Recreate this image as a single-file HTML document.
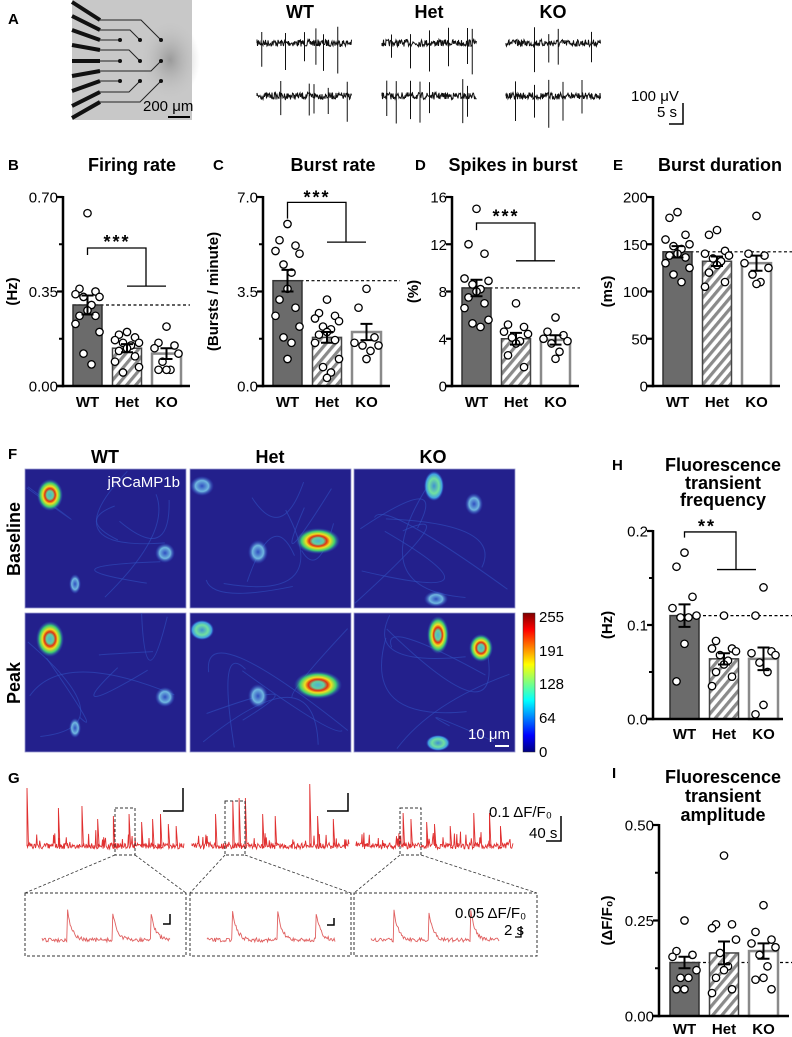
<!DOCTYPE html>
<html><head><meta charset="utf-8">
<style>
html,body{margin:0;padding:0;background:#fff;}
svg{display:block;font-family:"Liberation Sans",Arial,sans-serif;}
.lbl{font-weight:bold;font-size:15px;}
.ttl{font-weight:bold;font-size:18px;}
.tk{font-size:15px;}
.xl{font-weight:bold;font-size:15px;}
</style></head>
<body>
<svg id="fig" width="792" height="1037" viewBox="0 0 792 1037">
<defs>
<pattern id="hatch" width="7" height="7" patternUnits="userSpaceOnUse" patternTransform="rotate(40)">
<rect width="7" height="7" fill="#fff"/><rect width="3.2" height="7" fill="#8a8a8a"/></pattern>
<linearGradient id="jet" x1="0" y1="1" x2="0" y2="0">
<stop offset="0" stop-color="#00007f"/><stop offset="0.12" stop-color="#0000ff"/><stop offset="0.37" stop-color="#00ffff"/>
<stop offset="0.5" stop-color="#7fff7f"/><stop offset="0.63" stop-color="#ffff00"/><stop offset="0.88" stop-color="#ff0000"/><stop offset="1" stop-color="#7f0000"/></linearGradient>
<radialGradient id="hot"><stop offset="0" stop-color="#50b0d0"/><stop offset="0.25" stop-color="#60d0a0"/><stop offset="0.4" stop-color="#e03010"/><stop offset="0.55" stop-color="#f0e020"/><stop offset="0.75" stop-color="#40d070"/><stop offset="1" stop-color="#2848c8" stop-opacity="0"/></radialGradient>
<radialGradient id="mid"><stop offset="0" stop-color="#4090d0"/><stop offset="0.5" stop-color="#70e0a0"/><stop offset="0.8" stop-color="#40a0e0"/><stop offset="1" stop-color="#2848c8" stop-opacity="0"/></radialGradient>
<radialGradient id="dim"><stop offset="0" stop-color="#3050c0"/><stop offset="0.55" stop-color="#70b8e0"/><stop offset="1" stop-color="#2848c8" stop-opacity="0"/></radialGradient>
<radialGradient id="patch"><stop offset="0" stop-color="#9a9a9a"/><stop offset="1" stop-color="#c4c4c4" stop-opacity="0"/></radialGradient>
</defs>
</svg>
<script>
const NS="http://www.w3.org/2000/svg";
const svg=document.getElementById('fig');
function mk(tag,attrs,parent,txt){const e=document.createElementNS(NS,tag);for(const k in attrs)e.setAttribute(k,attrs[k]);if(txt!==undefined)e.textContent=txt;(parent||svg).appendChild(e);return e;}

// ===== Data arrays =====
const groups=["WT","Het","KO"];
// B firing rate
const bTicks=[0,0.35,0.70]; const bTickLabels=["0.00","0.35","0.70"];
const bMeans=[0.30,0.14,0.12]; const bSems=[0.035,0.015,0.02];
const bWT=[0.64,0.36,0.35,0.34,0.33,0.33,0.30,0.28,0.26,0.26,0.23,0.20,0.12,0.08];
const bHet=[0.20,0.19,0.18,0.17,0.16,0.16,0.15,0.14,0.13,0.11,0.09,0.07,0.05];
const bKO=[0.22,0.16,0.15,0.14,0.12,0.09,0.06,0.06,0.06];
// C burst rate
const cTicks=[0,3.5,7.0]; const cTickLabels=["0.0","3.5","7.0"];
const cMeans=[3.9,1.8,2.0]; const cSems=[0.4,0.2,0.3];
const cWT=[6.0,5.4,5.2,5.0,4.9,4.5,4.2,3.6,3.2,2.9,2.6,2.2,1.8,1.6,1.0];
const cHet=[3.2,2.7,2.6,2.5,2.4,2.2,2.1,2.0,1.9,1.7,1.6,1.0,0.7,0.5,0.3];
const cKO=[3.6,2.9,1.8,1.6,1.5,1.5,1.3,1.0];
// D spikes in burst
const dTicks=[0,4,8,12,16]; const dTickLabels=["0","4","8","12","16"];
const dMeans=[8.3,4.0,3.9]; const dSems=[0.7,0.5,0.4];
const dWT=[15,12,11.2,9.1,8.9,8.6,8.2,8.0,7.5,7.0,6.6,5.6,5.3,5.0];
const dHet=[7.0,5.2,5.0,4.6,4.4,4.1,3.8,3.6,2.6,1.6];
const dKO=[5.8,4.6,4.3,4.0,3.8,3.6,2.9,2.3];
// E burst duration
const eTicks=[0,50,100,150,200]; const eTickLabels=["0","50","100","150","200"];
const eMeans=[142,132,130]; const eSems=[6,5,8];
const eWT=[184,178,160,155,150,148,145,140,138,136,130,125,118,110];
const eHet=[165,160,143,140,138,135,132,128,120,110,105];
const eKO=[180,140,138,130,125,118,110,108];
// H transient frequency
const hTicks=[0,0.1,0.2]; const hTickLabels=["0.0","0.1","0.2"];
const hMeans=[0.110,0.064,0.064]; const hSems=[0.012,0.006,0.012];
const hWT=[0.177,0.162,0.130,0.118,0.110,0.108,0.108,0.080,0.040];
const hHet=[0.110,0.083,0.075,0.075,0.072,0.068,0.062,0.058,0.050,0.045,0.035];
const hKO=[0.140,0.110,0.072,0.070,0.068,0.060,0.050,0.015,0.005];
// I transient amplitude
const iTicks=[0,0.25,0.50]; const iTickLabels=["0.00","0.25","0.50"];
const iMeans=[0.14,0.165,0.17]; const iSems=[0.015,0.03,0.02];
const iWT=[0.25,0.17,0.16,0.155,0.12,0.10,0.10,0.07,0.07];
const iHet=[0.42,0.24,0.24,0.23,0.20,0.165,0.13,0.12,0.10,0.07,0.06];
const iKO=[0.29,0.22,0.20,0.19,0.18,0.16,0.13,0.10,0.095,0.07];
// significance brackets [topValue, tickBottom, dropValue, starsValue]
const bSig=[0.511,0.485,0.37,0.545]; const cSig=[6.8,6.2,5.33,7.1]; const dSig=[13.8,13.2,10.6,14.6]; const hSig=[0.199,0.193,0.159,0.208];

function text(x,y,s,cls,anchor,name,extra){const a={x:x,y:y,class:cls,'text-anchor':anchor||'start'};Object.assign(a,extra||{});const t=mk('text',a,null,s);return t;}

function panel(p){
  const g=mk('g',{});
  
  
  const ymax=p.ticks[p.ticks.length-1];
  const y=v=>p.bottom-(v/ymax)*(p.bottom-p.top);
  const ax=p.axisX, bx0=p.barX;
  const cx=i=>bx0+14.5+i*39.5;
  const dl=mk('line',{x1:bx0,x2:p.dashEnd,y1:y(p.means[0]),y2:y(p.means[0]),stroke:'#000','stroke-width':1.2,'stroke-dasharray':'3,2.5'},g);
  
  const fills=['#6b6b6b','url(#hatch)','#fff'], strokes=['#333','#444','#8a8a8a'], sw=[1.5,1.5,2.5];
  p.means.forEach((m,i)=>{
    const r=mk('rect',{x:bx0+i*39.5,y:y(m),width:29,height:p.bottom-y(m),fill:fills[i],stroke:strokes[i],'stroke-width':sw[i]},g);
    
    
  });
  p.points.forEach((arr,i)=>{
    arr.forEach((v,j)=>{
      const off=[0,-8,8,-12,12,-4,4][j%7];
      const c=mk('circle',{cx:cx(i)+off,cy:y(v),r:3.7,fill:'#fff',stroke:'#000','stroke-width':1.3},g);
      
      
    });
  });
  p.means.forEach((m,i)=>{
    const e=mk('path',{d:`M${cx(i)},${y(m-p.sems[i])}V${y(m+p.sems[i])}M${cx(i)-6},${y(m-p.sems[i])}h12M${cx(i)-6},${y(m+p.sems[i])}h12`,stroke:'#000','stroke-width':2,fill:'none'},g);
    
    
  });
  const ya=mk('line',{x1:ax,x2:ax,y1:p.top-1,y2:p.bottom+1.2,stroke:'#000','stroke-width':2.5},g);
  
  const xa=mk('line',{x1:ax-6,x2:ax+p.xLen,y1:p.bottom,y2:p.bottom,stroke:'#000','stroke-width':2.5},g);
  
  p.ticks.forEach((t,i)=>{
    const tl=mk('line',{x1:ax-6,x2:ax,y1:y(t),y2:y(t),stroke:'#000','stroke-width':2.2},g);
    
    text(ax-5,y(t)+5.5,p.tickLabels[i],'tk','end','y-tick-label');
    if(p.minor&&i<p.ticks.length-1){const mv=(t+p.ticks[i+1])/2;
      const ml=mk('line',{x1:ax-4,x2:ax,y1:y(mv),y2:y(mv),stroke:'#000','stroke-width':2},g);
      }
  });
  groups.forEach((gname,i)=>text(cx(i),p.bottom+p.xlOff,gname,'xl','middle','x-label-'+gname.toLowerCase()));
  text(0,0,p.ytitle,'lbl','middle','y-axis-title',{transform:`translate(${p.ytx},${(p.top+p.bottom)/2}) rotate(-90)`});
  if(p.sig){
    const s=p.sig;
    const b=mk('path',{d:`M${cx(0)},${y(s[1])}V${y(s[0])}H${ax+83}V${y(s[2])}M${ax+64},${y(s[2])}H${ax+103}`,stroke:'#000','stroke-width':1.3,fill:'none'},g);
    
    text(ax+54,y(s[3])+9,p.stars,'ttl','middle','significance-stars',{'letter-spacing':'2'});
  }
}
const T=197,B=386;
panel({name:'firing-rate-chart',axisX:63,barX:73,top:T,bottom:B,xLen:127,dashEnd:190,ticks:bTicks,tickLabels:bTickLabels,minor:true,means:bMeans,sems:bSems,points:[bWT,bHet,bKO],ytitle:'(Hz)',ytx:17,sig:bSig,stars:'***',xlOff:21});
panel({name:'burst-rate-chart',axisX:263,barX:273,top:T,bottom:B,xLen:127,dashEnd:400,ticks:cTicks,tickLabels:cTickLabels,minor:true,means:cMeans,sems:cSems,points:[cWT,cHet,cKO],ytitle:'(Bursts / minute)',ytx:218,sig:cSig,stars:'***',xlOff:21});
panel({name:'spikes-in-burst-chart',axisX:452,barX:462,top:T,bottom:B,xLen:127,dashEnd:580,ticks:dTicks,tickLabels:dTickLabels,minor:false,means:dMeans,sems:dSems,points:[dWT,dHet,dKO],ytitle:'(%)',ytx:418,sig:dSig,stars:'***',xlOff:21});
panel({name:'burst-duration-chart',axisX:653,barX:663,top:T,bottom:B,xLen:127,dashEnd:792,ticks:eTicks,tickLabels:eTickLabels,minor:false,means:eMeans,sems:eSems,points:[eWT,eHet,eKO],ytitle:'(ms)',ytx:612,sig:null,xlOff:21});
panel({name:'transient-frequency-chart',axisX:653,barX:670,top:531,bottom:719,xLen:130,dashEnd:792,ticks:hTicks,tickLabels:hTickLabels,minor:true,means:hMeans,sems:hSems,points:[hWT,hHet,hKO],ytitle:'(Hz)',ytx:612,sig:hSig,stars:'**',xlOff:20});
panel({name:'transient-amplitude-chart',axisX:659,barX:670,top:825,bottom:1016,xLen:130,dashEnd:792,ticks:iTicks,tickLabels:iTickLabels,minor:true,means:iMeans,sems:iSems,points:[iWT,iHet,iKO],ytitle:'(ΔF/F₀)',ytx:612,sig:null,xlOff:18});

[['A',8,24],['B',8,170],['C',213,170],['D',415,170],['E',613,170],['F',8,459],['G',8,783],['H',612,470],['I',612,778]].forEach(l=>text(l[1],l[2],l[0],'lbl','start','panel-letter-'+l[0].toLowerCase(),{'font-size':'16'}));
text(132,171,'Firing rate','ttl','middle','title-firing-rate');
text(333,171,'Burst rate','ttl','middle','title-burst-rate');
text(513,171,'Spikes in burst','ttl','middle','title-spikes-in-burst');
text(720,171,'Burst duration','ttl','middle','title-burst-duration');
text(723,471,'Fluorescence','ttl','middle','title-h-line1');
text(723,489,'transient','ttl','middle','title-h-line2');
text(723,506,'frequency','ttl','middle','title-h-line3');
text(723,783,'Fluorescence','ttl','middle','title-i-line1');
text(723,802,'transient','ttl','middle','title-i-line2');
text(723,821,'amplitude','ttl','middle','title-i-line3');

// ===== Panel A =====
const mea=mk('g',{});
mk('rect',{x:72,y:0,width:120,height:120,fill:'#c8c8c8'},mea);
mk('ellipse',{cx:170,cy:60,rx:30,ry:40,fill:'url(#patch)'},mea);
const wS=[2,16,30,45,61,76,91,106,118], wE=[20,30,40,50,61,71,81,92,102];
wS.forEach((s,i)=>mk('line',{x1:72,y1:s,x2:100,y2:wE[i],stroke:'#111','stroke-width':4},mea));
const dx=[120,140,161], dy=[40,61,81];
const order=[[0,2],[1,1],[2,0],[3,1],[4,0],[5,2],[6,0],[7,1],[8,2]];
order.forEach(o=>{const ey=wE[o[0]];const ty=dy[Math.floor(o[0]/3)];const tx=dx[o[1]];
  mk('polyline',{points:`100,${ey} ${tx-Math.abs(ty-ey)},${ey} ${tx},${ty}`,stroke:'#222','stroke-width':1,fill:'none'},mea);
  mk('circle',{cx:tx,cy:ty,r:2,fill:'#111'},mea);});
text(143,111,'200 μm','tk','start','mea-scale-label',{'font-size':'14'});
mk('line',{x1:168,x2:190,y1:117,y2:117,stroke:'#000','stroke-width':2},mea);

let seed=7;function rnd(){seed=(seed*16807)%2147483647;return seed/2147483647;}
const aSpikes=[[0.05,0.3,0.5,0.62,0.7,0.85],[0.1,0.3,0.5,0.7,0.9,0.95],[0.3,0.45,0.55,0.9],[0.25,0.55,0.6,0.75,0.95],[0.05,0.15,0.3,0.4,0.5,0.85,0.9],[0.1,0.3,0.45,0.6,0.8]];
const aX=[257,382,506]; const aY=[43,96];
aY.forEach((yy,r)=>aX.forEach((xx,c)=>{
  let d=`M${xx},${yy}`;for(let k=0;k<190;k++){const x=xx+k*0.5;d+=`L${x.toFixed(1)},${(yy+(rnd()-0.5)*7).toFixed(1)}`;}
  aSpikes[r*3+c].forEach(f=>{const x=xx+f*95;d+=`M${x},${yy-8-rnd()*10}V${yy+14+rnd()*18}`;});
  const p=mk('path',{d:d,stroke:'#111','stroke-width':1,fill:'none'});
  
}));
text(300,18,'WT','ttl','middle','trace-label-wt');
text(429,18,'Het','ttl','middle','trace-label-het');
text(553,18,'KO','ttl','middle','trace-label-ko');
text(631,101,'100 μV','tk','start','mea-scale-voltage',{'font-size':'13'});
text(657,117,'5 s','tk','start','mea-scale-time',{'font-size':'13'});
const sb=mk('path',{d:'M683,103V124H669',stroke:'#000','stroke-width':1.5,fill:'none'});

// ===== Panel F =====
const imgX=[25,190,354], imgY=[469,613];
const cells=[
 [[['hot',25,26,13,16],['dim',140,84,10,10],['dim',50,115,6,10]],[['hot',25,26,14,18],['dim',140,84,10,10],['dim',50,115,6,10]]],
 [[['dim',12,17,12,10],['dim',68,83,10,12],['hot',128,72,22,13]],[['mid',12,17,12,10],['dim',68,83,10,12],['hot',128,72,24,14]]],
 [[['mid',80,17,10,15],['dim',120,35,9,11],['dim',82,130,12,8]],[['hot',84,22,11,19],['hot',127,35,12,14],['mid',84,130,12,8]]]
];
imgY.forEach((yy,r)=>imgX.forEach((xx,c)=>{
  const g=mk('g',{});
  mk('rect',{x:xx,y:yy,width:161,height:139,fill:'#23208c',stroke:'#9a9ad0','stroke-width':0.8},g);
  for(let k=0;k<6;k++){mk('path',{d:`M${xx+rnd()*161},${yy+rnd()*139}Q${xx+rnd()*161},${yy+rnd()*139} ${xx+rnd()*161},${yy+rnd()*139}`,stroke:'#3050c0','stroke-width':1,fill:'none',opacity:0.6},g);}
  cells[c][r].forEach(ce=>mk('ellipse',{cx:xx+ce[1],cy:yy+ce[2],rx:ce[3],ry:ce[4],fill:`url(#${ce[0]})`},g));
}));
text(105,463,'WT','ttl','middle','image-col-wt');
text(270,463,'Het','ttl','middle','image-col-het');
text(433,463,'KO','ttl','middle','image-col-ko');
text(0,0,'Baseline','ttl','middle','row-label-baseline',{transform:'translate(20,539) rotate(-90)'});
text(0,0,'Peak','ttl','middle','row-label-peak',{transform:'translate(20,683) rotate(-90)'});
text(180,487,'jRCaMP1b','tk','end','indicator-label',{fill:'#fff','font-size':'14'});
text(510,739,'10 μm','tk','end','image-scale-label',{fill:'#fff','font-size':'14'});
mk('line',{x1:495,x2:509,y1:746,y2:746,stroke:'#fff','stroke-width':2});
const cb=mk('rect',{x:523,y:613,width:12,height:139,fill:'url(#jet)',stroke:'#333','stroke-width':0.5});

const cbTicks=[0,64,128,191,255];
cbTicks.forEach(v=>text(539,752-v/255*135+5,String(v),'tk','start','colorbar-tick-label'));

// ===== Panel G =====
const gX=[27,192,356], gBase=846;
const gSpikes=[[0,0.2,0.35,0.45,0.55,0.65,0.73,0.8,0.85,0.9,0.95],[0.15,0.26,0.3,0.34,0.45,0.53,0.75,0.8,0.9],[0.3,0.35,0.45,0.5,0.6,0.75,0.85,0.92]];
const gHeights=[[58,38,40,27,30,32,24,27,32,22,20],[32,45,48,48,32,30,62,30,27],[33,27,24,22,20,33,33,20]];
gX.forEach((xx,c)=>{
  let d=`M${xx},${gBase}`;const w=157;
  for(let k=0;k<=260;k++){const x=xx+k*w/260;d+=`L${x.toFixed(1)},${(gBase+(rnd()-0.5)*6 - (rnd()<0.12?rnd()*14:0)).toFixed(1)}`;}
  gSpikes[c].forEach((f,i)=>{const x=xx+f*w;d+=`M${x},${gBase}V${gBase-gHeights[c][i]}L${x+1.5},${gBase}`;});
  const p=mk('path',{d:d,stroke:'#e03030','stroke-width':0.9,fill:'none'});
  
});
const zb=[[115,135,808],[225,245,801],[400,421,808]], bb=[[25,186],[190,351],[354,537]];
const boxTop=893, boxBot=956, zBot=855;
zb.forEach((z,i)=>{
  const g=mk('g',{});
  mk('rect',{x:z[0],y:z[2],width:z[1]-z[0],height:zBot-z[2],fill:'none',stroke:'#333','stroke-width':1,'stroke-dasharray':'3,2'},g);
  mk('path',{d:`M${z[0]},${zBot}L${bb[i][0]},${boxTop}M${z[1]},${zBot}L${bb[i][1]},${boxTop}`,stroke:'#333','stroke-width':0.8,'stroke-dasharray':'3,2',fill:'none'},g);
  mk('rect',{x:bb[i][0],y:boxTop,width:bb[i][1]-bb[i][0],height:boxBot-boxTop,fill:'none',stroke:'#333','stroke-width':1,'stroke-dasharray':'3,2'},g);
  let d='';const x0=bb[i][0]+17,w=128,base=940;
  const peaks=[[0.2,0.55,0.85],[0.2,0.55,0.85],[0.18,0.45,0.78]][i];
  for(let k=0;k<=150;k++){const f=k/150;let v=0;peaks.forEach(pk=>{if(f>=pk)v+=30*Math.exp(-(f-pk)*30);});
    d+=(k?'L':'M')+(x0+f*w).toFixed(1)+','+(base-v+(rnd()-0.5)*4).toFixed(1);}
  mk('path',{d:d,stroke:'#e06060','stroke-width':0.9,fill:'none'},g);
});
[[163,788,183,811],[327,793,348,811]].forEach(s=>{const p=mk('path',{d:`M${s[0]},${s[3]}H${s[2]}V${s[1]}`,stroke:'#000','stroke-width':1.5,fill:'none'});});
[[163,914,170,924],[327,918,334,925]].forEach(s=>mk('path',{d:`M${s[0]},${s[3]}H${s[2]}V${s[1]}`,stroke:'#000','stroke-width':1.5,fill:'none'}));
text(489,817,'0.1 ΔF/F₀','tk','start','trace-scale-amplitude');
text(529,838,'40 s','tk','start','trace-scale-time');
mk('path',{d:'M546,841H561V816',stroke:'#000','stroke-width':1.5,fill:'none'});
text(455,918,'0.05 ΔF/F₀','tk','start','inset-scale-amplitude',{'font-size':'12'});
text(504,935,'2 s','tk','start','inset-scale-time',{'font-size':'12'});
mk('path',{d:'M521,926V937H515',stroke:'#000','stroke-width':1.3,fill:'none'});
</script>
</body></html>
